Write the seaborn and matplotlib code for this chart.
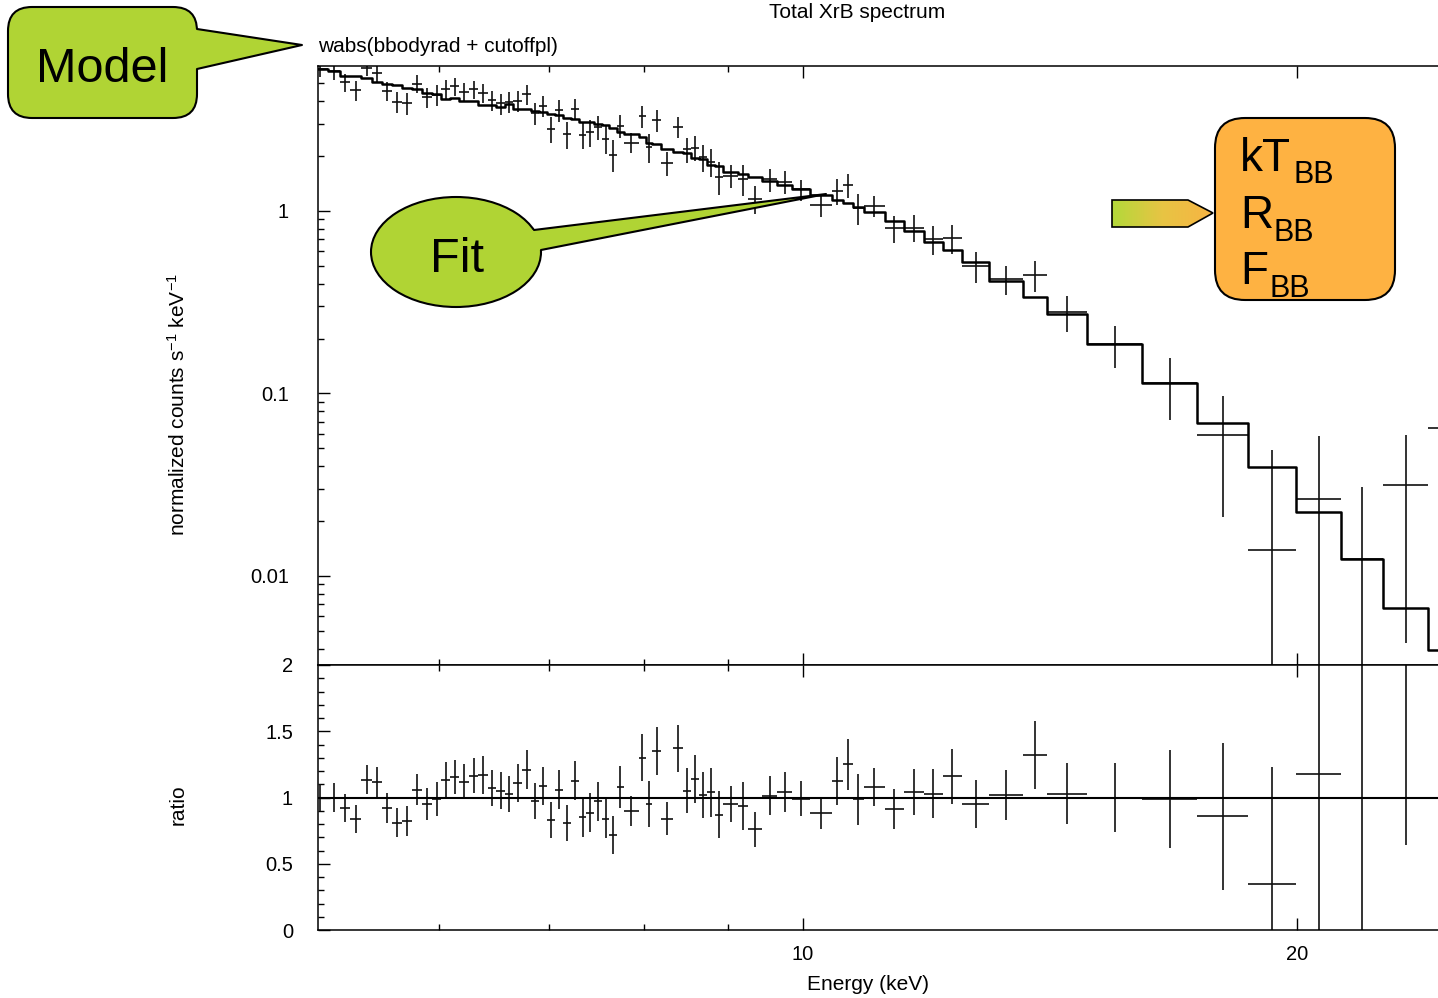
import numpy as np
import pandas as pd
import matplotlib
matplotlib.use("Agg")
import matplotlib.pyplot as plt
import seaborn as sns
from matplotlib.patches import FancyBboxPatch, Ellipse, Polygon
from matplotlib.colors import LinearSegmentedColormap
from matplotlib.ticker import FixedLocator, FixedFormatter, NullFormatter, MultipleLocator, LogLocator

# energy bin edges (keV), 72 channels
bin_edges = [5.018, 5.132, 5.219, 5.297, 5.379, 5.459, 5.536, 5.618, 5.698, 5.774,
             5.856, 5.939, 6.019, 6.095, 6.173, 6.256, 6.340, 6.421, 6.502, 6.580,
             6.659, 6.744, 6.825, 6.902, 6.980, 7.059, 7.138, 7.219, 7.301, 7.378,
             7.456, 7.540, 7.620, 7.700, 7.776, 7.943, 8.016, 8.095, 8.192, 8.326,
             8.444, 8.545, 8.642, 8.739, 8.838, 8.938, 9.129, 9.257, 9.441, 9.642,
             9.847, 10.10, 10.41, 10.58, 10.73, 10.89, 11.22, 11.52, 11.85, 12.17,
             12.50, 12.99, 13.62, 14.09, 14.90, 16.10, 17.39, 18.67, 19.97, 21.28,
             22.58, 24.05, 26.31]

# folded model, normalized counts s^-1 keV^-1
model_counts = [6.000, 5.849, 5.513, 5.458, 5.376, 5.110, 4.946, 4.903, 4.738, 4.690,
                4.414, 4.376, 4.109, 4.177, 4.022, 3.981, 3.809, 3.785, 3.700, 3.857,
                3.622, 3.599, 3.531, 3.487, 3.401, 3.357, 3.245, 3.212, 3.085, 3.054,
                2.985, 2.959, 2.839, 2.720, 2.633, 2.554, 2.350, 2.329, 2.187, 2.113,
                2.071, 1.944, 1.927, 1.787, 1.765, 1.642, 1.595, 1.530, 1.466, 1.388,
                1.325, 1.224, 1.149, 1.110, 1.056, 0.991, 0.885, 0.780, 0.679, 0.611,
                0.527, 0.415, 0.339, 0.272, 0.186, 0.1146, 0.0687, 0.0397, 0.0225, 0.0124,
                0.00668, 0.00393]

# data / model
ratio = [1.00, 1.00, 0.92, 0.84, 1.135, 1.115, 0.92, 0.81, 0.82, 1.06,
         0.95, 0.99, 1.135, 1.153, 1.12, 1.166, 1.17, 1.07, 1.05, 1.025,
         1.11, 1.21, 0.97, 1.085, 0.83, 1.06, 0.81, 1.128, 0.85, 0.885,
         0.97, 0.84, 0.716, 1.08, 0.90, 1.30, 0.95, 1.35, 0.84, 1.37,
         1.05, 1.14, 1.02, 1.04, 0.87, 0.95, 0.935, 0.76, 1.015, 1.04,
         0.99, 0.88, 1.125, 1.25, 0.985, 1.08, 0.91, 1.04, 1.03, 1.16,
         0.95, 1.02, 1.32, 1.03, 1.00, 0.99, 0.86, 0.35, 1.18, 1.00,
         4.74, 16.5]

ratio_err = [0.10, 0.106, 0.107, 0.107, 0.111, 0.113, 0.113, 0.109, 0.113, 0.12,
             0.12, 0.128, 0.132, 0.13, 0.132, 0.135, 0.14, 0.136, 0.14, 0.135,
             0.145, 0.147, 0.136, 0.142, 0.138, 0.148, 0.136, 0.147, 0.145, 0.147,
             0.146, 0.148, 0.143, 0.161, 0.113, 0.179, 0.171, 0.182, 0.126, 0.176,
             0.169, 0.179, 0.172, 0.185, 0.176, 0.136, 0.182, 0.131, 0.145, 0.151,
             0.131, 0.12, 0.182, 0.192, 0.189, 0.143, 0.151, 0.172, 0.184, 0.206,
             0.182, 0.189, 0.259, 0.233, 0.26, 0.369, 0.555, 0.878, 1.42, 1.48,
             4.1, 15.0]

x_major = [10, 20]
x_minor = [6, 7, 8, 9]
y_major = [0.01, 0.1, 1]
y_major_labels = ["0.01", "0.1", "1"]
r_major = [0, 0.5, 1, 1.5, 2]
r_major_labels = ["0", "0.5", "1", "1.5", "2"]

lo = np.array(bin_edges[:-1])
hi = np.array(bin_edges[1:])
energy = (lo + hi) / 2
half = (hi - lo) / 2
model = np.array(model_counts)
counts = np.array(ratio) * model
counts_err = np.array(ratio_err) * model

df_model = pd.DataFrame({"E": bin_edges, "model": model_counts + [model_counts[-1]]})

sns.set_theme(style="ticks", rc={"axes.edgecolor": "black", "axes.linewidth": 1.1,
                                 "xtick.color": "black", "ytick.color": "black",
                                 "text.color": "black", "axes.labelcolor": "black"})
plt.rcParams["font.family"] = ["Liberation Sans", "DejaVu Sans"]
plt.rcParams["mathtext.fontset"] = "custom"
plt.rcParams["mathtext.rm"] = "Liberation Sans"
plt.rcParams["mathtext.it"] = "Liberation Sans:italic"

fig = plt.figure(figsize=(14.38, 9.98), dpi=100)
W, H = 1438.0, 998.0
ax1 = fig.add_axes([318 / W, 1 - 665 / H, 1133 / W, 599 / H])
ax2 = fig.add_axes([318 / W, 1 - 930 / H, 1133 / W, 265 / H])

xmin, xmax = 5.061, 24.84

# upper panel
ax1.set_xscale("log")
ax1.set_yscale("log")
ax1.errorbar(energy, counts, xerr=half, yerr=counts_err, fmt="none",
             ecolor="#111111", elinewidth=1.2, capsize=0)
sns.lineplot(data=df_model, x="E", y="model", drawstyle="steps-post", color="black",
             lw=1.8, estimator=None, ax=ax1)
ax1.set_xlim(xmin, xmax)
ax1.set_ylim(0.00325, 6.23)
ax1.set_xlabel("")
ax1.set_ylabel("")

# lower panel
ax2.set_xscale("log")
ax2.errorbar(energy, ratio, xerr=half, yerr=ratio_err, fmt="none",
             ecolor="#111111", elinewidth=1.2, capsize=0)
ax2.axhline(1, color="black", lw=1.5)
ax2.set_xlim(xmin, xmax)
ax2.set_ylim(0, 2)

for ax in (ax1, ax2):
    ax.xaxis.set_major_locator(FixedLocator(x_major))
    ax.xaxis.set_minor_locator(FixedLocator(x_minor))
    ax.xaxis.set_major_formatter(FixedFormatter([str(v) for v in x_major]))
    ax.xaxis.set_minor_formatter(NullFormatter())
    ax.tick_params(which="both", direction="in", top=True, right=True,
                   bottom=True, left=True, width=1.0, labelsize=14.5, colors="black")
    ax.tick_params(which="major", length=8.6)
    ax.tick_params(which="minor", length=4.3)
    ax.tick_params(axis="x", pad=11)
    ax.set_facecolor("white")
    for s in ax.spines.values():
        s.set_color("black")

ax1.tick_params(axis="y", pad=21)
ax2.tick_params(axis="y", pad=18)
ax1.tick_params(labelbottom=False)
ax1.yaxis.set_major_locator(FixedLocator(y_major))
ax1.yaxis.set_major_formatter(FixedFormatter(y_major_labels))
ax1.yaxis.set_minor_locator(LogLocator(base=10, subs=np.arange(2, 10)))
ax1.yaxis.set_minor_formatter(NullFormatter())
ax2.yaxis.set_major_locator(FixedLocator(r_major))
ax2.yaxis.set_major_formatter(FixedFormatter(r_major_labels))
ax2.yaxis.set_minor_locator(MultipleLocator(0.1))

# labels
fig.text(857 / W, 1 - 13 / H, "Total XrB spectrum", ha="center", va="center", fontsize=15)
fig.text(318 / W, 1 - 46 / H, "wabs(bbodyrad + cutoffpl)", ha="left", va="center", fontsize=15)
fig.text(178 / W, 1 - 405 / H, r"normalized counts s$^{-1}$ keV$^{-1}$", rotation=90,
         ha="center", va="center", fontsize=15)
fig.text(178 / W, 1 - 805 / H, "ratio", rotation=90, ha="center", va="center", fontsize=15)
fig.text(868 / W, 1 - 985 / H, "Energy (keV)", ha="center", va="center", fontsize=15)

# callouts drawn in pixel coordinates on an overlay
ov = fig.add_axes([0, 0, 1, 1], zorder=10)
ov.patch.set_alpha(0)
green = "#b0d434"
orange = "#feb242"

ov.add_patch(FancyBboxPatch((8, 7), 189, 111, boxstyle="round,pad=0,rounding_size=24",
                            fc=green, ec="black", lw=1.5))
ov.add_patch(Polygon([(186, 29), (197, 29), (302, 45), (197, 69), (186, 69)],
                     closed=True, fc=green, ec="none"))
ov.plot([197, 302, 197], [29, 45, 69], color="black", lw=1.5)
ov.text(102, 82, "Model", fontsize=35, ha="center", va="baseline")

ov.add_patch(Ellipse((456, 252), 170, 110, fc=green, ec="black", lw=1.5))
ov.add_patch(Polygon([(515, 230), (534, 230), (826, 194), (541, 250), (515, 250)],
                     closed=True, fc=green, ec="none"))
ov.plot([534, 826, 541], [230, 194, 250], color="black", lw=1.5)
ov.text(457, 272, "Fit", fontsize=35, ha="center", va="baseline")

ov.add_patch(FancyBboxPatch((1215, 118), 180, 182, boxstyle="round,pad=0,rounding_size=30",
                            fc=orange, ec="black", lw=1.5))
ov.text(1240, 171, "kT", fontsize=33, ha="left", va="baseline")
ov.text(1294, 183, "BB", fontsize=22, ha="left", va="baseline")
ov.text(1240, 228, "R", fontsize=33, ha="left", va="baseline")
ov.text(1274, 241, "BB", fontsize=22, ha="left", va="baseline")
ov.text(1240, 284, "F", fontsize=33, ha="left", va="baseline")
ov.text(1270, 297, "BB", fontsize=22, ha="left", va="baseline")

arrow = Polygon([(1112, 200), (1188, 200), (1213, 213), (1188, 227), (1112, 227)],
                closed=True, fc="none", ec="black", lw=1.2, zorder=3)
ov.add_patch(arrow)
grad = np.linspace(0, 1, 256).reshape(1, -1)
cmap = LinearSegmentedColormap.from_list("grad", ["#b3d93a", "#e8c444", "#f7b443"])
im = ov.imshow(grad, cmap=cmap, extent=[1112, 1213, 227, 200], aspect="auto", zorder=2)
im.set_clip_path(arrow)

ov.set_xlim(0, W)
ov.set_ylim(H, 0)
ov.axis("off")

fig.savefig("out.png", dpi=100)
